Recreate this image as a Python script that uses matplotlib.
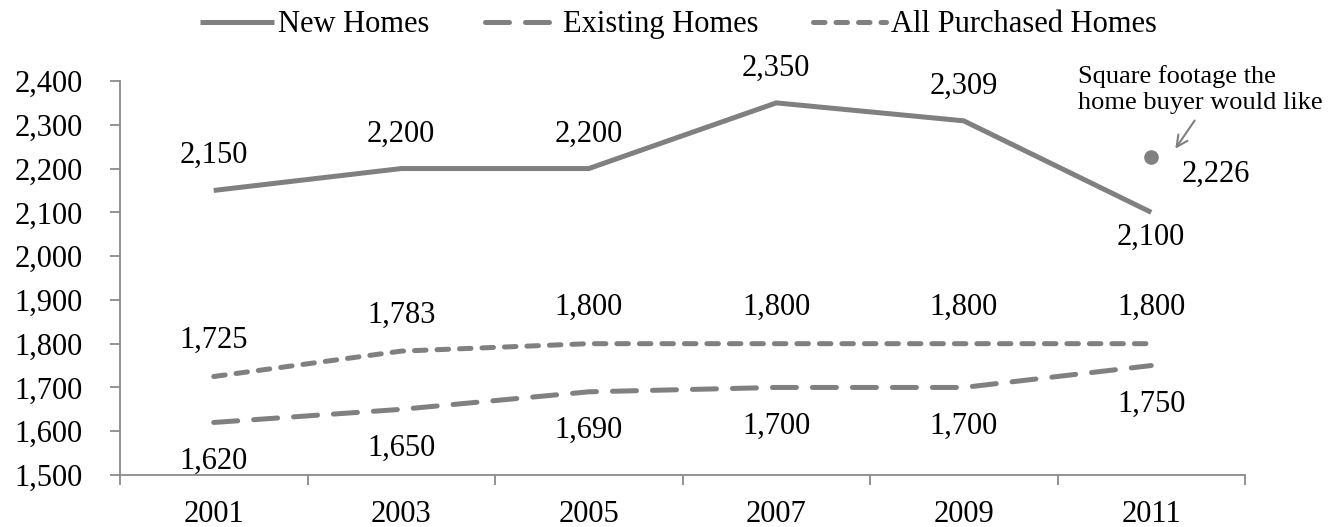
import matplotlib
matplotlib.use("Agg")
import matplotlib.pyplot as plt
from matplotlib.ticker import FuncFormatter, FixedLocator

plt.rcParams['font.family'] = ['Liberation Serif', 'DejaVu Serif']

# ---- data ----
years = ["2001", "2003", "2005", "2007", "2009", "2011"]
new_homes = [2150, 2200, 2200, 2350, 2309, 2100]
existing_homes = [1620, 1650, 1690, 1700, 1700, 1750]
all_purchased = [1725, 1783, 1800, 1800, 1800, 1800]
desired_value = 2226
desired_note = "Square footage the\nhome buyer would like"
series_names = ["New Homes", "Existing Homes", "All Purchased Homes"]
y_ticks = [1500, 1600, 1700, 1800, 1900, 2000, 2100, 2200, 2300, 2400]

GRAY = '#808080'
AXC = '#8a8a8a'
LW = 3.6
FS = 22

fig = plt.figure(figsize=(13.28, 5.27), dpi=100)
ax = fig.add_axes([120 / 1328, 1 - 475 / 527, 1125 / 1328, 394 / 527])

x = list(range(len(years)))
l1, = ax.plot(x, new_homes, color=GRAY, lw=LW, solid_capstyle='butt',
              solid_joinstyle='miter', label=series_names[0])
l2, = ax.plot(x, existing_homes, color=GRAY, lw=LW, dashes=(4.8, 3.2),
              dash_capstyle='round', label=series_names[1])
l3, = ax.plot(x, all_purchased, color=GRAY, lw=LW, dashes=(2.3, 2.2),
              dash_capstyle='round', label=series_names[2])

fmt = lambda v: f"{v:,.0f}"

# data labels
new_off = [25, 25, 25, 25, 25, -18]
for xi, v, o in zip(x, new_homes, new_off):
    ax.annotate(fmt(v), (xi, v), xytext=(0, o), textcoords='offset points',
                ha='center', va='center', fontsize=FS)
for xi, v in zip(x, existing_homes):
    ax.annotate(fmt(v), (xi, v), xytext=(0, -28), textcoords='offset points',
                ha='center', va='center', fontsize=FS)
for xi, v in zip(x, all_purchased):
    ax.annotate(fmt(v), (xi, v), xytext=(0, 26), textcoords='offset points',
                ha='center', va='center', fontsize=FS)

# desired square footage point
xd = len(years) - 1
ax.plot([xd], [desired_value], 'o', color=GRAY, ms=9.5, clip_on=False)
ax.annotate(fmt(desired_value), (xd, desired_value), xytext=(22, -12),
            textcoords='offset points', ha='left', va='center', fontsize=FS)
ax.annotate('', xy=(xd + 0.12, 2240), xytext=(xd + 0.24, 2315),
            arrowprops=dict(arrowstyle='->,head_length=0.8,head_width=0.4',
                            color=GRAY, lw=1.5), annotation_clip=False)
ax.text(0.8516, 0.978, desired_note, transform=ax.transAxes, ha='left',
        va='center', fontsize=19, linespacing=1.25, clip_on=False)

# axes
ax.set_xlim(-0.5, len(years) - 0.5)
ax.set_ylim(y_ticks[0], y_ticks[-1])
for s in ['top', 'right']:
    ax.spines[s].set_visible(False)
for s in ['left', 'bottom']:
    ax.spines[s].set_color(AXC)
    ax.spines[s].set_linewidth(1.3)

ax.set_xticks(x)
ax.set_xticklabels(years)
ax.xaxis.set_minor_locator(FixedLocator([i - 0.5 for i in range(len(years) + 1)]))
ax.tick_params(axis='x', which='major', length=0, pad=18, labelsize=FS)
ax.tick_params(axis='x', which='minor', length=7, width=1.3, color=AXC, direction='out')

ax.set_yticks(y_ticks)
ax.yaxis.set_major_formatter(FuncFormatter(lambda v, p: fmt(v)))
ax.tick_params(axis='y', length=7, width=1.3, color=AXC, direction='out',
               pad=20, labelsize=FS)

fig.legend(handles=[l1, l2, l3], loc='center', bbox_to_anchor=(0.511, 0.953),
           ncol=3, frameon=False, fontsize=FS, handlelength=2.4,
           handletextpad=0.15, columnspacing=1.8, borderaxespad=0)

fig.savefig('out.png', dpi=100)
